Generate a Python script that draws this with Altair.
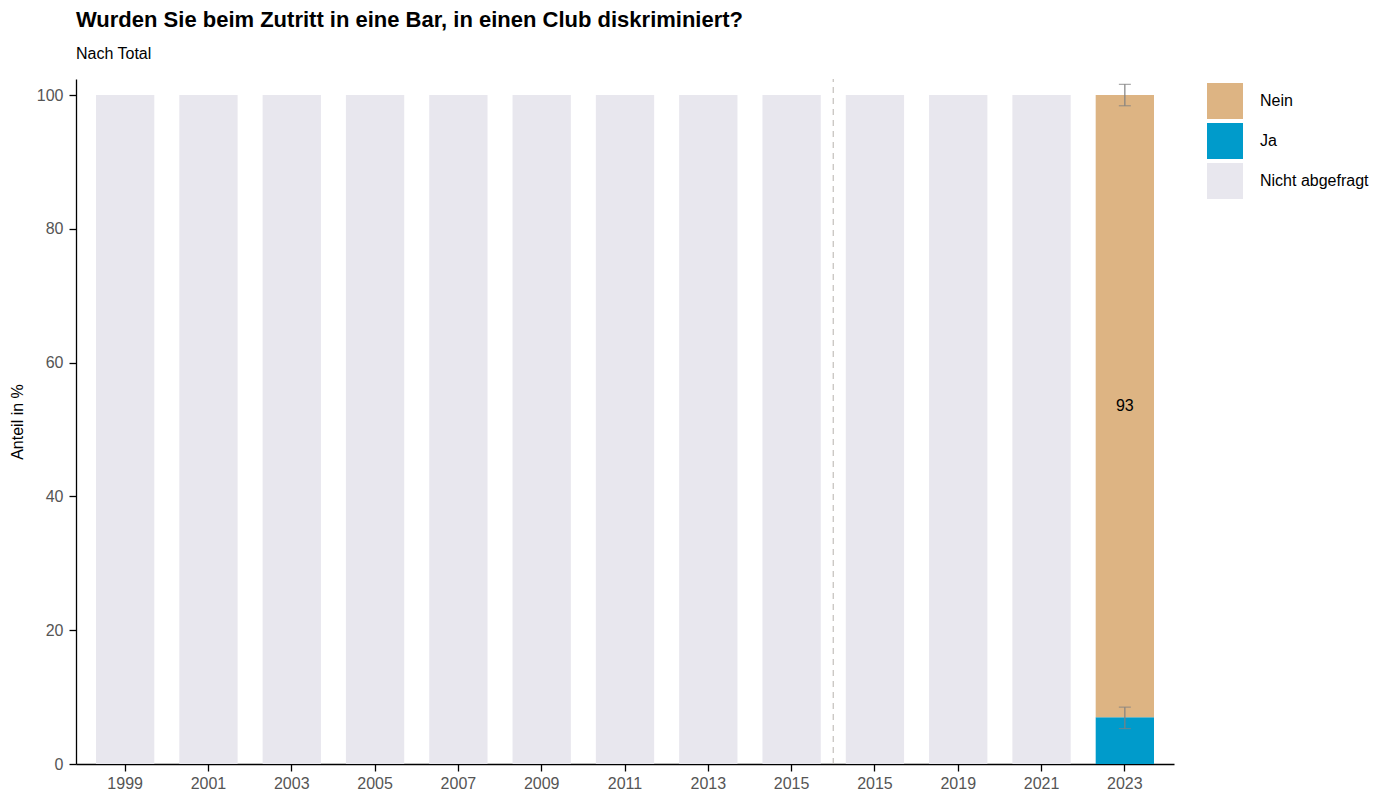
import altair as alt
import pandas as pd

years = ["1999", "2001", "2003", "2005", "2007", "2009", "2011", "2013",
         "2015", "2015", "2019", "2021", "2023"]
categories = ["Nein", "Ja", "Nicht abgefragt"]
colors = ["#ddb483", "#009bcb", "#e8e7ee"]

not_asked = [100] * 12 + [0]
ja_values = [0] * 12 + [7]
nein_values = [0] * 12 + [93]

err_idx = [12, 12]
err_low = [98.4, 5.3]
err_high = [101.6, 8.5]

label_idx = [12]
label_val = [93]
label_pos = [53.5]

rows = []
for i, y in enumerate(years):
    if not_asked[i] > 0:
        rows.append({"idx": i, "cat": "Nicht abgefragt", "val": not_asked[i], "ord": 0})
    if ja_values[i] > 0:
        rows.append({"idx": i, "cat": "Ja", "val": ja_values[i], "ord": 1})
    if nein_values[i] > 0:
        rows.append({"idx": i, "cat": "Nein", "val": nein_values[i], "ord": 2})
df = pd.DataFrame(rows)

err_df = pd.DataFrame({"idx": err_idx, "low": err_low, "high": err_high})
lab_df = pd.DataFrame({"idx": label_idx, "val": label_val, "pos": label_pos})
sep_df = pd.DataFrame({"idx": [9]})

label_expr = "[" + ",".join("'%s'" % y for y in years) + "][datum.value]"

ymax = 102.4
x_scale = alt.Scale(domain=list(range(len(years))), paddingInner=0.3, paddingOuter=0.24)
y_scale = alt.Scale(domain=[0, ymax], nice=False)

x_enc = alt.X("idx:O", scale=x_scale, title=None,
              axis=alt.Axis(labelExpr=label_expr, labelAngle=0, labelFontSize=16,
                            labelColor="#555555", domainColor="#000000", tickColor="#000000",
                            tickSize=7, labelPadding=4, domainWidth=1.3, tickWidth=1.3))

bars = alt.Chart(df).mark_bar().encode(
    x=x_enc,
    y=alt.Y("val:Q", stack="zero", scale=y_scale, title="Anteil in %",
            axis=alt.Axis(values=[0, 20, 40, 60, 80, 100], grid=False, labelFontSize=16,
                          labelColor="#555555", domainColor="#000000", tickColor="#000000",
                          tickSize=7, labelPadding=6, titleFontSize=16, titleFontWeight="normal",
                          titleColor="#000000", titlePadding=11, domainWidth=1.3,
                          tickWidth=1.3)),
    color=alt.Color("cat:N", scale=alt.Scale(domain=categories, range=colors),
                    legend=alt.Legend(title=None, symbolType="square", symbolSize=1296,
                                      symbolStrokeWidth=0, labelFontSize=16,
                                      labelColor="#000000", labelOffset=17,
                                      rowPadding=4, offset=29, padding=4)),
    order=alt.Order("ord:Q"),
)

sep = alt.Chart(sep_df).mark_rule(color="#c8c5c0", strokeDash=[6, 5], strokeWidth=1.3).encode(
    x=alt.X("idx:O", scale=x_scale, bandPosition=0),
    xOffset=alt.value(-12.5),
    y=alt.datum(0, scale=y_scale),
    y2=alt.datum(ymax),
)

err_rule = alt.Chart(err_df).mark_rule(color="#808080", strokeWidth=1.2).encode(
    x=alt.X("idx:O", scale=x_scale),
    y=alt.Y("low:Q", scale=y_scale),
    y2="high:Q",
)
err_lo = alt.Chart(err_df).mark_tick(color="#808080", orient="horizontal", size=12, thickness=1.2).encode(
    x=alt.X("idx:O", scale=x_scale),
    y=alt.Y("low:Q", scale=y_scale),
)
err_hi = alt.Chart(err_df).mark_tick(color="#808080", orient="horizontal", size=12, thickness=1.2).encode(
    x=alt.X("idx:O", scale=x_scale),
    y=alt.Y("high:Q", scale=y_scale),
)

labels = alt.Chart(lab_df).mark_text(fontSize=16, color="#000000", font="Liberation Sans").encode(
    x=alt.X("idx:O", scale=x_scale),
    y=alt.Y("pos:Q", scale=y_scale),
    text="val:Q",
)

chart = alt.layer(bars, sep, err_rule, err_lo, err_hi, labels).properties(
    width=1098, height=685,
    padding={"left": 1, "top": 1, "right": 5, "bottom": 5},
    title=alt.TitleParams("Wurden Sie beim Zutritt in eine Bar, in einen Club diskriminiert?",
                          subtitle="Nach Total", anchor="start", frame="group", fontSize=22,
                          fontWeight="bold", subtitleFontSize=16, subtitleColor="#000000",
                          color="#000000", subtitlePadding=14, offset=15,
                          font="Liberation Sans", subtitleFont="Liberation Sans"),
).configure(font="Liberation Sans").configure_view(stroke=None)

chart.save("out.html", embed_options={"renderer": "svg", "actions": False})
